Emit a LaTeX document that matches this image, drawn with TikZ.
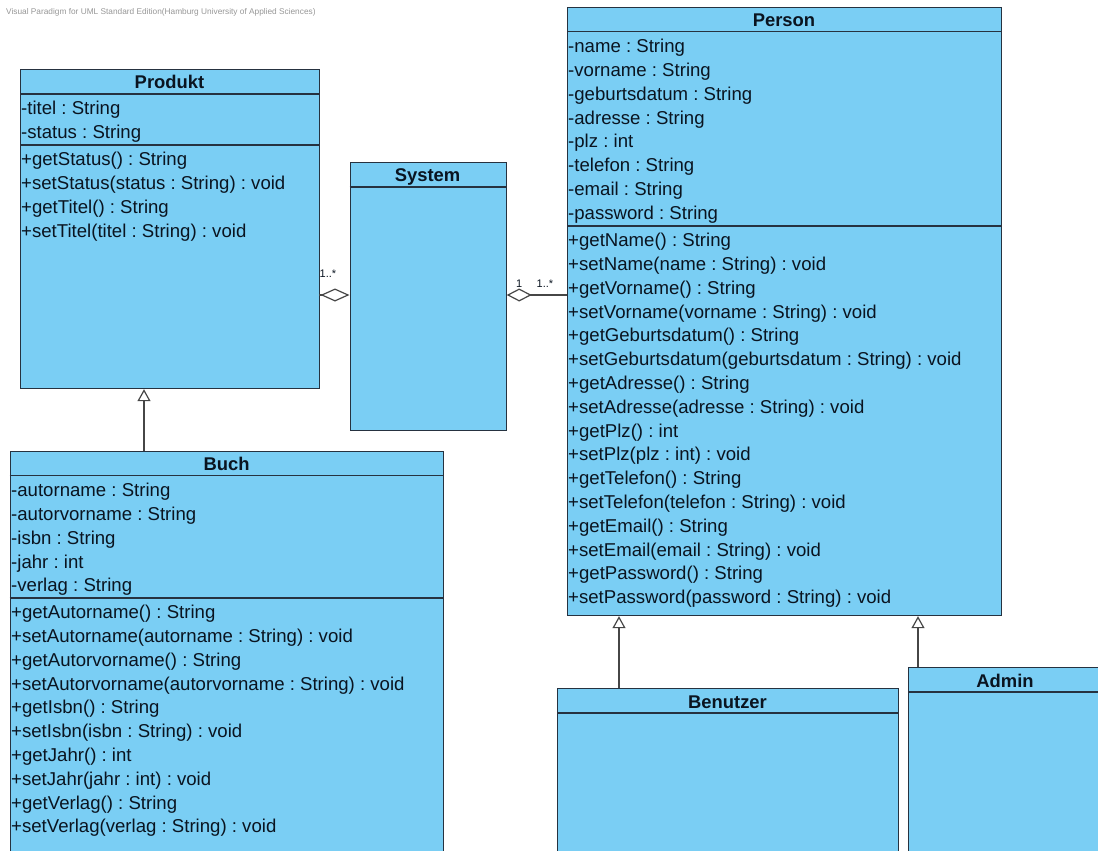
\documentclass[tikz,border=0pt]{standalone}
\usepackage{fontspec}
\setmainfont{Liberation Sans}
\usetikzlibrary{arrows.meta}
\frenchspacing

\definecolor{classfill}{RGB}{122,206,244}
\definecolor{classline}{RGB}{38,50,64}
\definecolor{ink}{RGB}{10,20,32}
\definecolor{wire}{RGB}{70,70,70}
\definecolor{stamp}{RGB}{150,150,150}

\tikzset{
  classbox/.style={draw=classline, fill=classfill, line width=1.2pt, inner sep=0pt, anchor=north west},
  member/.style={anchor=base west, inner sep=0pt, text=ink, font=\fontsize{18.6}{22}\selectfont},
  classname/.style={anchor=base, inner sep=0pt, text=ink, font=\fontsize{18.4}{22}\selectfont\bfseries},
  divider/.style={draw=classline, line width=1.2pt},
  gen/.style={draw=wire, line width=1.2pt,
    -{Triangle[fill=white, length=12pt, width=13pt, line width=1.2pt]}},
  agg/.style={draw=wire, line width=1.2pt,
    -{Diamond[fill=white, length=#1, width=13pt, line width=1.2pt]}},
  mult/.style={anchor=base west, inner sep=0pt, text=ink, font=\fontsize{11}{13}\selectfont},
}

\begin{document}
\begin{tikzpicture}[x=1pt, y=-1pt]
\useasboundingbox (0,0) rectangle (1098,851);
\clip (0,0) rectangle (1098,851);

% editor stamp
\node[anchor=base west, inner sep=0pt, text=stamp, font=\fontsize{8.3}{10}\selectfont] (stamp)
  at (6,15) {Visual Paradigm for UML Standard Edition(Hamburg University of Applied Sciences)};

% ---------------- Produkt ----------------
\node[classbox, minimum width=299pt, minimum height=319pt] (produkt) at (20,69) {};
\node[classname] (produkt-t) at (169.5,88.6) {Produkt};
\draw[divider] (produkt.west |- 0,94) -- (produkt.east |- 0,94);
\draw[divider] (produkt.west |- 0,145) -- (produkt.east |- 0,145);
\foreach \m [count=\i from 0] in {-titel : String, -status : String}
  \node[member] (produkt-a\i) at (21,{114.6+23.8*\i}) {\m};
\foreach \m [count=\i from 0] in {+getStatus() : String, +setStatus(status : String) : void,
    +getTitel() : String, +setTitel(titel : String) : void}
  \node[member] (produkt-m\i) at (21,{165.6+23.8*\i}) {\m};

% ---------------- System ----------------
\node[classbox, minimum width=156pt, minimum height=268pt] (system) at (349.5,162) {};
\node[classname] (system-t) at (427.5,181.6) {System};
\draw[divider] (system.west |- 0,187) -- (system.east |- 0,187);

% ---------------- Person ----------------
\node[classbox, minimum width=434pt, minimum height=608pt] (person) at (567,7) {};
\node[classname] (person-t) at (784,26.6) {Person};
\draw[divider] (person.west |- 0,31.5) -- (person.east |- 0,31.5);
\draw[divider] (person.west |- 0,226) -- (person.east |- 0,226);
\foreach \m [count=\i from 0] in {-name : String, -vorname : String, -geburtsdatum : String,
    -adresse : String, -plz : int, -telefon : String, -email : String, -password : String}
  \node[member] (person-a\i) at (568,{52.6+23.8*\i}) {\m};
\foreach \m [count=\i from 0] in {+getName() : String, +setName(name : String) : void,
    +getVorname() : String, +setVorname(vorname : String) : void,
    +getGeburtsdatum() : String, +setGeburtsdatum(geburtsdatum : String) : void,
    +getAdresse() : String, +setAdresse(adresse : String) : void,
    +getPlz() : int, +setPlz(plz : int) : void,
    +getTelefon() : String, +setTelefon(telefon : String) : void,
    +getEmail() : String, +setEmail(email : String) : void,
    +getPassword() : String, +setPassword(password : String) : void}
  \node[member] (person-m\i) at (568,{246.6+23.8*\i}) {\m};

% ---------------- Buch ----------------
\node[classbox, minimum width=433.5pt, minimum height=420pt] (buch) at (9.5,451) {};
\node[classname] (buch-t) at (226.5,470.6) {Buch};
\draw[divider] (buch.west |- 0,475.5) -- (buch.east |- 0,475.5);
\draw[divider] (buch.west |- 0,598) -- (buch.east |- 0,598);
\foreach \m [count=\i from 0] in {-autorname : String, -autorvorname : String, -isbn : String,
    -jahr : int, -verlag : String}
  \node[member] (buch-a\i) at (11,{496.6+23.8*\i}) {\m};
\foreach \m [count=\i from 0] in {+getAutorname() : String, +setAutorname(autorname : String) : void,
    +getAutorvorname() : String, +setAutorvorname(autorvorname : String) : void,
    +getIsbn() : String, +setIsbn(isbn : String) : void,
    +getJahr() : int, +setJahr(jahr : int) : void,
    +getVerlag() : String, +setVerlag(verlag : String) : void}
  \node[member] (buch-m\i) at (11,{618.6+23.8*\i}) {\m};

% ---------------- Benutzer ----------------
\node[classbox, minimum width=341pt, minimum height=200pt] (benutzer) at (557,688) {};
\node[classname] (benutzer-t) at (727.5,708.6) {Benutzer};
\draw[divider] (benutzer.west |- 0,713) -- (benutzer.east |- 0,713);

% ---------------- Admin ----------------
\node[classbox, minimum width=220pt, minimum height=220pt] (admin) at (908,667) {};
\node[classname] (admin-t) at (1005,687.6) {Admin};
\draw[divider] (admin.west |- 0,692) -- (admin.east |- 0,692);

% ---------------- generalizations ----------------
\coordinate (buch-up) at (144,451);
\draw[gen] (buch-up) -- (buch-up |- produkt.south);
\coordinate (benutzer-up) at (619,688);
\draw[gen] (benutzer-up) -- (benutzer-up |- person.south);
\coordinate (admin-up) at (918,667);
\draw[gen] (admin-up) -- (admin-up |- person.south);

% ---------------- aggregations ----------------
\coordinate (produkt-agg) at (319,295);
\draw[agg=29pt] (produkt-agg) -- (produkt-agg -| system.west);
\coordinate (person-agg) at (567,295);
\draw[agg=25pt] (person-agg) -- (person-agg -| system.east);

% multiplicities
\node[mult] (m-produkt) at (319.5,277) {1..*};
\node[mult] (m-system) at (516,287) {1};
\node[mult] (m-person) at (536.5,287) {1..*};

\end{tikzpicture}
\end{document}
